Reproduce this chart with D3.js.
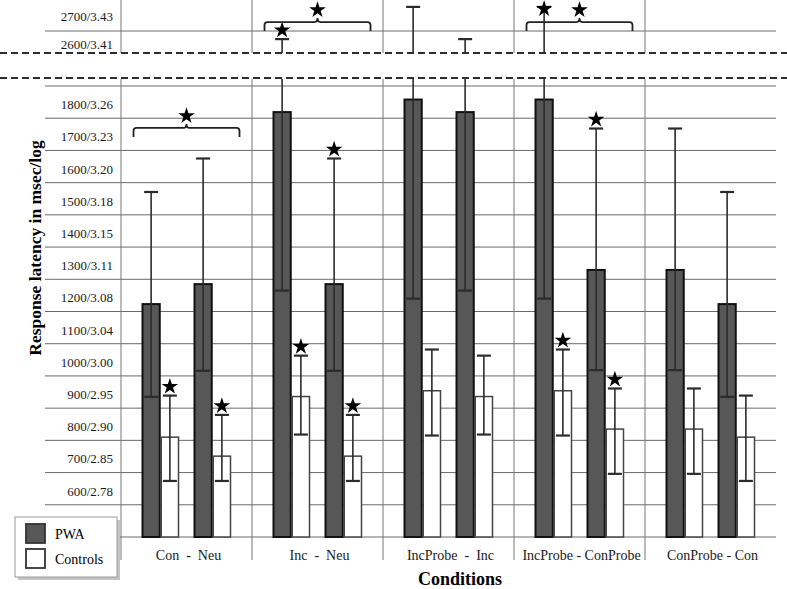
<!DOCTYPE html>
<html>
<head>
<meta charset="utf-8">
<script src="https://cdn.jsdelivr.net/npm/d3@7"></script>
<style>
  body { margin: 0; background: #fff; }
</style>
</head>
<body>
<div id="chart"></div>
<script>
// condition pairs shown on the x axis
const groups = ["Con  -  Neu", "Inc  -  Neu", "IncProbe  -  Inc", "IncProbe - ConProbe", "ConProbe - Con"];
const pairs = [["Con", "Neu"], ["Inc", "Neu"], ["IncProbe", "Inc"], ["IncProbe", "ConProbe"], ["ConProbe", "Con"]];
const series = ["PWA", "Controls"];

// mean response latency (msec) and error bar ends, per condition
const conditions = ["Con", "Neu", "Inc", "IncProbe", "ConProbe"];
const pwaMean = [1173, 1235, 1769, 1808, 1279];
const pwaHigh = [1521, 1625, 2621, 2736, 1718];
const pwaLow = [885, 966, 1215, 1190, 968];
const ctrlMean = [760, 701, 886, 904, 785];
const ctrlHigh = [889, 829, 1013, 1032, 911];
const ctrlLow = [624, 624, 768, 765, 646];

// tick labels (msec / log msec)
const lowerTicks = [600, 700, 800, 900, 1000, 1100, 1200, 1300, 1400, 1500, 1600, 1700, 1800];
const lowerLogs = ["2.78", "2.85", "2.90", "2.95", "3.00", "3.04", "3.08", "3.11", "3.15", "3.18", "3.20", "3.23", "3.26"];
const upperTicks = [2600, 2700];
const upperLogs = ["3.41", "3.43"];

// significance markers: [group, position in pair, series]
const starred = [[0, 0, "Controls"], [0, 1, "Controls"],
                 [1, 0, "PWA"], [1, 0, "Controls"], [1, 1, "PWA"], [1, 1, "Controls"],
                 [3, 0, "PWA"], [3, 0, "Controls"], [3, 1, "PWA"], [3, 1, "Controls"]];
// brackets between the two conditions of a pair: [group, level in msec]
const brackets = [[0, 1720], [1, 2682], [3, 2682]];

const width = 787, height = 589;
const serif = "'Liberation Serif', 'DejaVu Serif', serif";
const svg = d3.select("#chart").append("svg")
    .attr("width", width)
    .attr("height", height)
    .attr("font-family", serif);

// broken y axis: lower and upper part
const yLow = d3.scaleLinear().domain([450, 1850]).range([537, 86]);
const yUp = d3.scaleLinear().domain([2600, 2700]).range([45, 17]);
const panels = [
  { y: yLow, top: 79, bottom: 560, id: "clipLow" },
  { y: yUp, top: 0, bottom: 53, id: "clipUp" }
];

const x0 = d3.scaleBand().domain(groups).range([121, 776]);
const x1 = d3.scalePoint().domain([0, 1]).range([-26, 26]);
const x2 = d3.scaleBand().domain(series).range([-18, 18]).paddingInner(0.08);

const defs = svg.append("defs");
panels.forEach(p => {
  defs.append("clipPath").attr("id", p.id)
    .append("rect").attr("x", 0).attr("y", p.top).attr("width", width).attr("height", p.bottom - p.top);
});

// build the rows for every bar
const rows = [];
groups.forEach((g, gi) => {
  pairs[gi].forEach((c, pi) => {
    const ci = conditions.indexOf(c);
    rows.push({ gi, pi, s: "PWA", mean: pwaMean[ci], hi: pwaHigh[ci], lo: pwaLow[ci] });
    rows.push({ gi, pi, s: "Controls", mean: ctrlMean[ci], hi: ctrlHigh[ci], lo: ctrlLow[ci] });
  });
});
const barX = d => x0(groups[d.gi]) + x0.bandwidth() / 2 + x1(d.pi) + x2(d.s);
const barMid = d => barX(d) + x2.bandwidth() / 2;

// horizontal grid
svg.append("g").selectAll("line")
  .data(d3.range(450, 1851, 100))
  .join("line")
    .attr("x1", 45).attr("x2", 776)
    .attr("y1", d => yLow(d)).attr("y2", d => yLow(d))
    .attr("stroke", "#6a6a6a").attr("stroke-width", 1);
svg.append("line")
    .attr("x1", 45).attr("x2", 776)
    .attr("y1", yUp(2650)).attr("y2", yUp(2650))
    .attr("stroke", "#6a6a6a").attr("stroke-width", 1);

// vertical group separators
const seps = groups.map(g => x0(g));
panels.forEach(p => {
  svg.append("g").selectAll("line")
    .data(seps)
    .join("line")
      .attr("x1", d => d).attr("x2", d => d)
      .attr("y1", p.top).attr("y2", p.bottom)
      .attr("stroke", "#777").attr("stroke-width", 1);
});

// bars (all means lie in the lower part)
svg.append("g").selectAll("rect")
  .data(rows)
  .join("rect")
    .attr("x", barX)
    .attr("width", x2.bandwidth())
    .attr("y", d => yLow(d.mean))
    .attr("height", d => yLow(450) - yLow(d.mean))
    .attr("fill", d => d.s === "PWA" ? "#575757" : "#fff")
    .attr("stroke", d => d.s === "PWA" ? "#111" : "#444")
    .attr("stroke-width", d => d.s === "PWA" ? 2 : 1.5);

// error bars, drawn in each part of the broken axis
panels.forEach(p => {
  const g = svg.append("g").attr("clip-path", `url(#${p.id})`)
    .attr("stroke", "#2b2b2b").attr("stroke-width", 1.6);
  g.selectAll(".stem").data(rows).join("line")
      .attr("x1", barMid).attr("x2", barMid)
      .attr("y1", d => p.y(d.lo)).attr("y2", d => p.y(d.hi));
  g.selectAll(".cap").data(rows.flatMap(d => [[d, d.lo], [d, d.hi]])).join("line")
      .attr("x1", d => barMid(d[0]) - 7).attr("x2", d => barMid(d[0]) + 7)
      .attr("y1", d => p.y(d[1])).attr("y2", d => p.y(d[1]))
      .attr("stroke-width", 2.2);
});

// stars above the error caps
const star = d3.symbol().type(d3.symbolStar).size(85);
const capY = d => d.hi > 1850 ? yUp(d.hi) : yLow(d.hi);
svg.append("g").selectAll("path")
  .data(starred.map(s => rows.find(r => r.gi === s[0] && r.pi === s[1] && r.s === s[2])))
  .join("path")
    .attr("d", star)
    .attr("transform", d => `translate(${barMid(d)},${Math.max(capY(d) - 9, 9)})`)
    .attr("fill", "#000");

// brackets linking the two conditions of a pair
brackets.forEach(([gi, level]) => {
  const cx = x0(groups[gi]) + x0.bandwidth() / 2;
  const y = level > 1850 ? yUp(level) : yLow(level);
  const l = cx - 53, r = cx + 53;
  svg.append("path")
    .attr("d", `M${l},${y + 9} L${l},${y + 3} Q${l},${y} ${l + 3},${y} L${cx - 3},${y} Q${cx},${y} ${cx},${y - 4}
               Q${cx},${y} ${cx + 3},${y} L${r - 3},${y} Q${r},${y} ${r},${y + 3} L${r},${y + 9}`)
    .attr("fill", "none").attr("stroke", "#222").attr("stroke-width", 1.8);
  svg.append("path")
    .attr("d", star)
    .attr("transform", `translate(${cx},${y - 12})`)
    .attr("fill", "#000");
});

// axis break
[53, 78].forEach(y => {
  svg.append("line")
    .attr("x1", 0).attr("x2", width)
    .attr("y1", y).attr("y2", y)
    .attr("stroke", "#2e2e2e").attr("stroke-width", 2)
    .attr("stroke-dasharray", "7,4");
});

// tick labels
svg.append("g").selectAll("text")
  .data(lowerTicks)
  .join("text")
    .attr("x", 113).attr("y", d => yLow(d) + 7)
    .attr("text-anchor", "end").attr("font-size", 13).attr("fill", "#1a1a1a")
    .text((d, i) => `${d}/${lowerLogs[i]}`);
svg.append("g").selectAll("text")
  .data(upperTicks)
  .join("text")
    .attr("x", 113).attr("y", d => yUp(d) + 4)
    .attr("text-anchor", "end").attr("font-size", 13).attr("fill", "#1a1a1a")
    .text((d, i) => `${d}/${upperLogs[i]}`);

// category labels
svg.append("g").selectAll("text")
  .data(groups)
  .join("text")
    .attr("x", d => x0(d) + x0.bandwidth() / 2 + 2)
    .attr("y", 560)
    .attr("text-anchor", "middle").attr("font-size", 14).attr("fill", "#1a1a1a")
    .attr("font-family", serif)
    .style("white-space", "pre")
    .text(d => d);

// axis titles
svg.append("text")
    .attr("transform", "translate(41,248) rotate(-90)")
    .attr("text-anchor", "middle")
    .attr("font-family", serif)
    .attr("font-size", 17.5).attr("font-weight", "bold")
    .text("Response latency in msec/log");
svg.append("text")
    .attr("x", 460).attr("y", 585)
    .attr("text-anchor", "middle")
    .attr("font-family", serif)
    .attr("font-size", 18).attr("font-weight", "bold")
    .text("Conditions");

// legend with shadow
const legend = svg.append("g");
legend.append("rect").attr("x", 18).attr("y", 520).attr("width", 102).attr("height", 60).attr("fill", "#c4c4c4");
legend.append("rect").attr("x", 15).attr("y", 517).attr("width", 102).attr("height", 60)
    .attr("fill", "#fff").attr("stroke", "#999").attr("stroke-width", 1);
series.forEach((s, i) => {
  legend.append("rect")
    .attr("x", 26).attr("y", 524 + i * 25).attr("width", 19).attr("height", 19)
    .attr("fill", s === "PWA" ? "#575757" : "#fff")
    .attr("stroke", "#333").attr("stroke-width", 1.8);
  legend.append("text")
    .attr("x", 55).attr("y", 539 + i * 25)
    .attr("font-family", serif)
    .attr("font-size", 14)
    .text(s);
});
</script>
</body>
</html>
